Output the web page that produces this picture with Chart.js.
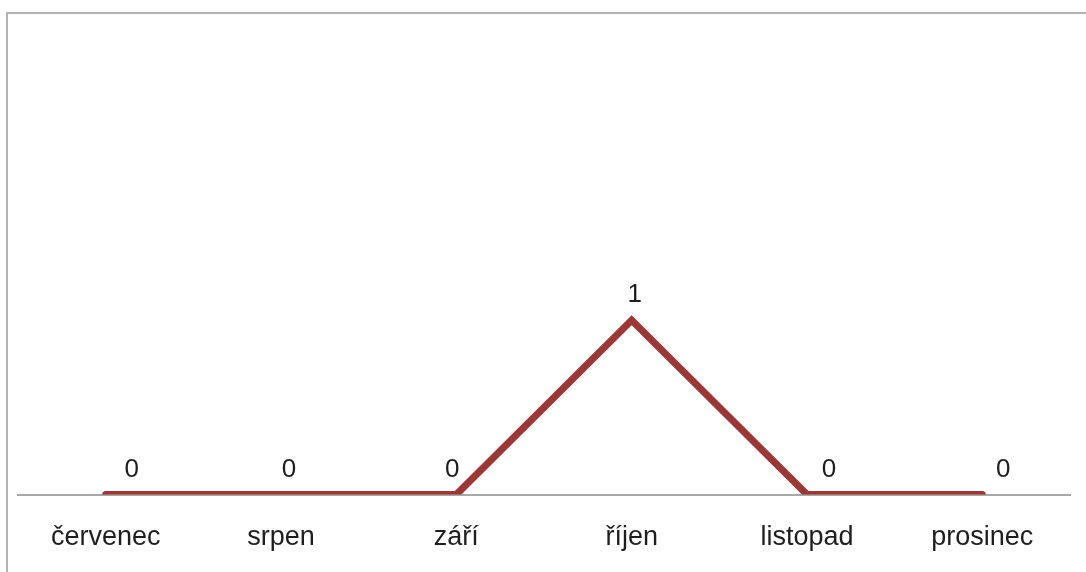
<!DOCTYPE html>
<html>
<head>
<meta charset="utf-8">
<script src="https://cdn.jsdelivr.net/npm/chart.js@4"></script>
<style>
    html, body { margin: 0; padding: 0; background: #fff; }
    #frame {
        position: absolute;
        left: 6px;
        top: 12px;
        width: 1080px;
        height: 560px;
        border-top: 2px solid #b4b4b4;
        border-left: 2px solid #b4b4b4;
    }
    #chart { display: block; }
</style>
</head>
<body>
<div id="frame">
    <canvas id="chart" width="1078" height="558"></canvas>
</div>
<script>
// Měsíce a hodnoty
const months = ['červenec', 'srpen', 'září', 'říjen', 'listopad', 'prosinec'];
const counts = [0, 0, 0, 1, 0, 0];

const lineColor = '#9d3735';
const textColor = '#1e1e1e';
const fontFamily = '"Liberation Sans", Arial, Helvetica, sans-serif';

/**
 * Draws the value above each point (like the original's data labels).
 */
const valueLabels = {
    id: 'valueLabels',
    afterDatasetsDraw(chart, args, opts) {
        const ctx = chart.ctx;
        const meta = chart.getDatasetMeta(0);
        const data = chart.data.datasets[0].data;
        ctx.save();
        ctx.font = `${opts.size}px ${fontFamily}`;
        ctx.fillStyle = textColor;
        ctx.textAlign = 'center';
        ctx.textBaseline = 'middle';
        meta.data.forEach((pt, i) => {
            const dx = opts.shift[i] || 0;
            ctx.fillText(String(data[i]), pt.x + dx, pt.y - opts.lift);
        });
        ctx.restore();
    }
};

const ctx = document.getElementById('chart').getContext('2d');
new Chart(ctx, {
    type: 'line',
    data: {
        labels: months,
        datasets: [{
            data: counts,
            borderColor: lineColor,
            borderWidth: 7,
            borderCapStyle: 'round',
            borderJoinStyle: 'miter',
            pointRadius: 0,
            tension: 0,
            fill: false
        }]
    },
    options: {
        responsive: false,
        animation: false,
        layout: {
            padding: { top: 132, bottom: -9, left: 10, right: 16 }
        },
        plugins: {
            legend: { display: false },
            tooltip: { enabled: false },
            valueLabels: {
                size: 26,
                lift: 25,
                shift: [26, 8, -4, 3, 22, 21]
            }
        },
        scales: {
            x: {
                offset: true,
                grid: { display: false, drawTicks: false },
                border: { display: true, color: '#a8a8a8', width: 2 },
                ticks: {
                    color: textColor,
                    padding: 27,
                    maxRotation: 0,
                    font: { family: fontFamily, size: 27 }
                }
            },
            y: {
                display: false,
                min: 0,
                max: 2
            }
        }
    },
    plugins: [valueLabels]
});
</script>
</body>
</html>
